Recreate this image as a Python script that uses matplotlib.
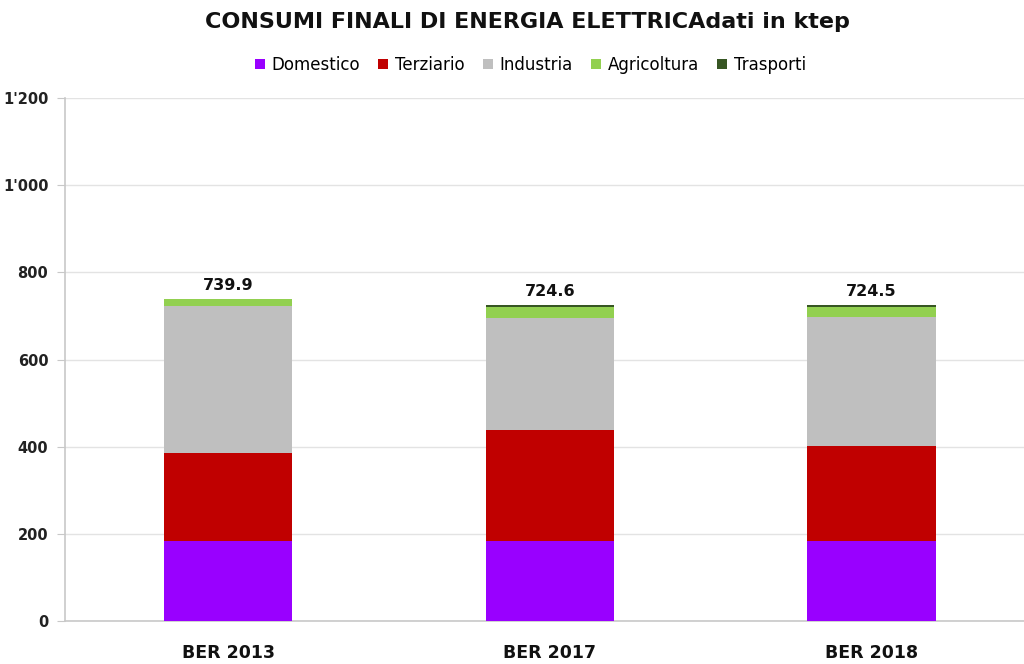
import matplotlib.pyplot as plt
import matplotlib.ticker as ticker
import numpy as np

categories = ['BER 2013', 'BER 2017', 'BER 2018']
series = ['Domestico', 'Terziario', 'Industria', 'Agricoltura', 'Trasporti']
domestico = [185, 185, 185]
terziario = [201, 253, 218]
industria = [337, 258, 295]
agricoltura = [16, 24, 22]
trasporti = [0.9, 4.6, 4.5]
totals = [739.9, 724.6, 724.5]

colors = ['#9900FF', '#C00000', '#BFBFBF', '#92D050', '#375623']

fig = plt.figure(figsize=(10.24, 6.64), dpi=100)
ax = fig.add_axes([0.0635, 0.0643, 0.9365, 0.7881])

x = np.arange(len(categories))
bottom = np.zeros(len(categories))
for name, vals, col in zip(series, [domestico, terziario, industria, agricoltura, trasporti], colors):
    ax.bar(x, vals, width=0.398, bottom=bottom, color=col, label=name, zorder=3)
    bottom += np.array(vals)

# totals above the stacks
for xi, t, b in zip(x, totals, bottom):
    ax.text(xi, b + 14, f'{t:.1f}', ha='center', va='bottom', fontsize=11.5,
            fontweight='bold', color='#111111')

ax.set_xlim(-0.507, 2.474)
ax.set_ylim(0, 1200)
ax.yaxis.set_major_locator(ticker.MultipleLocator(200))
ax.yaxis.set_major_formatter(ticker.FuncFormatter(
    lambda v, p: f"{int(v):,}".replace(',', "'")))
ax.grid(axis='y', color='#E3E3E3', linewidth=1, zorder=0)
ax.set_xticks(x)
ax.set_xticklabels(categories)

for s in ['top', 'right']:
    ax.spines[s].set_visible(False)
for s in ['left', 'bottom']:
    ax.spines[s].set_color('#C8C8C8')
    ax.spines[s].set_linewidth(1.2)

ax.tick_params(axis='y', length=6, color='#C8C8C8', pad=6, labelsize=10.5,
               labelcolor='#222222')
ax.tick_params(axis='x', length=0, pad=16, labelsize=12.5, labelcolor='#111111')
for lab in ax.get_yticklabels() + ax.get_xticklabels():
    lab.set_fontweight('bold')

fig.text(0.515, 0.967, 'CONSUMI FINALI DI ENERGIA ELETTRICAdati in ktep',
         ha='center', va='center', fontsize=16, fontweight='bold', color='#111111')

handles, labels = ax.get_legend_handles_labels()
fig.legend(handles, labels, loc='center', bbox_to_anchor=(0.518, 0.902), ncol=5,
           frameon=False, fontsize=12, handlelength=0.6, handleheight=0.6,
           handletextpad=0.4, columnspacing=1.1)

plt.savefig('out.png', dpi=100)
